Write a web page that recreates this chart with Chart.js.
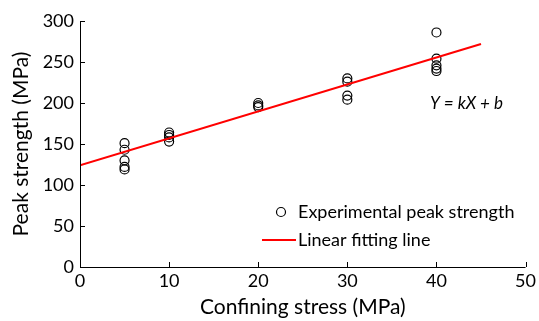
<!DOCTYPE html>
<html><head><meta charset="utf-8">
<script src="https://cdn.jsdelivr.net/npm/chart.js@4.4.1/dist/chart.umd.min.js"></script>
<style>html,body{margin:0;padding:0;background:#fff}#wrap{width:539px;height:321px}</style>
</head><body><div id="wrap"><canvas id="c" width="539" height="321"></canvas></div>
<script>
const confiningStress = [5,5,5,5,5, 10,10,10,10, 20,20,20, 30,30,30,30, 40,40,40,40,40];
const peakStrength    = [151,143,130,122,119, 164,161,158,153, 200,197,195, 230,226,209,204, 286,254,246,242,239];
const fitStress = [0, 45];
const fitStrength = [124, 272];
const xTicks = [0,10,20,30,40,50];
const yTicks = [0,50,100,150,200,250,300];
const legendLabels = ['Experimental peak strength', 'Linear fitting line'];
const equationText = 'Y = kX + b';
const FONT = 'Lato, "Open Sans", sans-serif';

const inwardTicks = {
  id: 'inwardTicks',
  afterDraw(chart) {
    const {ctx, scales:{x, y}, chartArea:a} = chart;
    ctx.save();
    ctx.strokeStyle = '#000'; ctx.lineWidth = 1;
    ctx.beginPath();
    ctx.moveTo(a.left + 0.5, a.top); ctx.lineTo(a.left + 0.5, a.bottom + 0.5); ctx.lineTo(a.right, a.bottom + 0.5);
    xTicks.forEach(v => { const px = Math.round(x.getPixelForValue(v)) + 0.5; ctx.moveTo(px, a.bottom); ctx.lineTo(px, a.bottom - 5); });
    yTicks.forEach(v => { const py = Math.round(y.getPixelForValue(v)) + 0.5; ctx.moveTo(a.left, py); ctx.lineTo(a.left + 5, py); });
    ctx.stroke();
    // legend
    ctx.fillStyle = '#000';
    ctx.font = '18px ' + FONT;
    ctx.textBaseline = 'middle'; ctx.textAlign = 'left';
    ctx.beginPath(); ctx.arc(281, 212, 4.5, 0, Math.PI*2); ctx.lineWidth = 1.2; ctx.stroke();
    ctx.fillText(legendLabels[0], 298, 212);
    ctx.beginPath(); ctx.strokeStyle = '#ff0000'; ctx.lineWidth = 2; ctx.moveTo(262, 240); ctx.lineTo(296, 240); ctx.stroke();
    ctx.fillText(legendLabels[1], 298, 240);
    ctx.font = 'italic 17px ' + FONT;
    ctx.fillText(equationText, 430, 104);
    ctx.restore();
  }
};

new Chart(document.getElementById('c'), {
  type: 'scatter',
  data: {
    datasets: [
      {
        label: legendLabels[0],
        data: confiningStress.map((v,i) => ({x:v, y:peakStrength[i]})),
        pointStyle: 'circle', pointRadius: 4.5, pointBorderWidth: 1.2,
        borderColor: '#000', backgroundColor: 'rgba(255,255,255,0)', order: 2
      },
      {
        label: legendLabels[1], type: 'line',
        data: fitStress.map((v,i) => ({x:v, y:fitStrength[i]})),
        borderColor: '#ff0000', borderWidth: 2, pointRadius: 0, showLine: true, fill: false, order: 1
      }
    ]
  },
  options: {
    responsive: false, animation: false,
    layout: { padding: { top: 21, right: 11, left: 0, bottom: 0 } },
    plugins: { legend: { display: false }, tooltip: { enabled: false } },
    scales: {
      x: {
        type: 'linear', min: 0, max: 50,
        afterFit(s) { s.height = 54; },
        afterBuildTicks(s) { s.ticks = xTicks.map(v => ({value: v})); },
        grid: { display: false, drawTicks: false },
        border: { display: false },
        ticks: { color: '#000', font: { family: FONT, size: 18 }, padding: 3, maxRotation: 0 },
        title: { display: true, text: 'Confining stress (MPa)', color: '#000', font: { family: FONT, size: 21 }, padding: { top: 0, bottom: 1 } }
      },
      y: {
        type: 'linear', min: 0, max: 300,
        afterFit(s) { s.width = 80; },
        afterBuildTicks(s) { s.ticks = yTicks.map(v => ({value: v})); },
        grid: { display: false, drawTicks: false },
        border: { display: false },
        ticks: { color: '#000', font: { family: FONT, size: 18 }, padding: 6 },
        title: { display: true, text: 'Peak strength (MPa)', color: '#000', font: { family: FONT, size: 21 }, padding: { top: 9, bottom: 0 } }
      }
    }
  },
  plugins: [inwardTicks]
});
</script></body></html>
